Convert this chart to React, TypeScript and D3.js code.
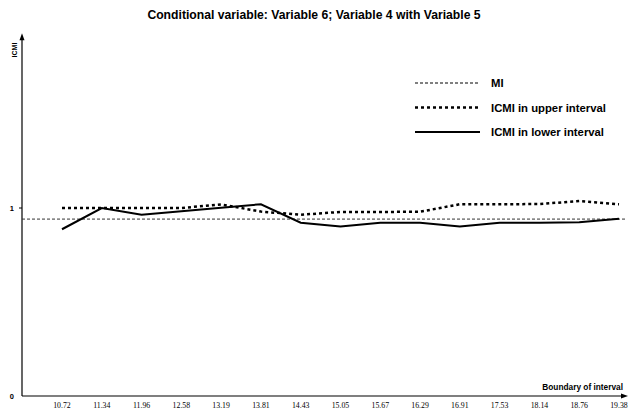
import * as d3 from 'd3';
import { useEffect, useRef } from 'react';

const boundaries = ["10.72", "11.34", "11.96", "12.58", "13.19", "13.81", "14.43", "15.05", "15.67", "16.29", "16.91", "17.53", "18.14", "18.76", "19.38"];
const upperICMI = [1.0, 1.0, 1.0, 1.0, 1.019, 0.981, 0.964, 0.979, 0.979, 0.98, 1.02, 1.02, 1.021, 1.037, 1.02];
const lowerICMI = [0.887, 1.0, 0.964, 0.983, 1.001, 1.02, 0.922, 0.901, 0.922, 0.922, 0.901, 0.922, 0.922, 0.924, 0.943];
const miValue = 0.941;
const yTicks = [0, 1];

const legendItems = [
    { label: "MI", dash: "3,2", width: 1 },
    { label: "ICMI in upper interval", dash: "3,3", width: 2.5 },
    { label: "ICMI in lower interval", dash: null, width: 2 },
];

export default function App() {
    const ref = useRef<SVGSVGElement>(null);
    const width = 629;
    const height = 412;

    useEffect(() => {
        const svg = d3.select(ref.current);
        svg.selectAll('*').remove();

        const x0 = 22;
        const y0 = 396;
        const sans = 'Liberation Sans, Arial, sans-serif';

        const xScale = d3.scalePoint<string>()
            .domain(boundaries)
            .range([62, 619]);

        const yScale = d3.scaleLinear()
            .domain([0, 2])
            .range([y0, y0 - 376]);

        // title
        svg.append('text')
            .attr('x', 314)
            .attr('y', 19)
            .attr('text-anchor', 'middle')
            .attr('font-family', sans)
            .attr('font-weight', 'bold')
            .attr('font-size', 12.2)
            .text('Conditional variable: Variable 6; Variable 4 with Variable 5');

        // axes
        const yTop = yScale(1.93);
        svg.append('line')
            .attr('x1', x0).attr('x2', x0)
            .attr('y1', y0).attr('y2', yTop + 4)
            .attr('stroke', '#000').attr('stroke-width', 1.2);
        svg.append('path')
            .attr('d', `M${x0},${yTop} L${x0 - 2.5},${yTop + 7} L${x0 + 2.5},${yTop + 7} Z`)
            .attr('fill', '#000');

        const xEnd = 628;
        svg.append('line')
            .attr('x1', x0).attr('x2', xEnd - 4)
            .attr('y1', y0).attr('y2', y0)
            .attr('stroke', '#000').attr('stroke-width', 1.2);
        svg.append('path')
            .attr('d', `M${xEnd},${y0} L${xEnd - 7},${y0 - 2.5} L${xEnd - 7},${y0 + 2.5} Z`)
            .attr('fill', '#000');

        // axis titles
        svg.append('text')
            .attr('transform', `translate(17,50) rotate(-90)`)
            .attr('text-anchor', 'middle')
            .attr('font-family', sans)
            .attr('font-weight', 'bold')
            .attr('font-size', 7)
            .text('ICMI');

        svg.append('text')
            .attr('x', 623)
            .attr('y', 390)
            .attr('text-anchor', 'end')
            .attr('font-family', sans)
            .attr('font-weight', 'bold')
            .attr('font-size', 8.3)
            .text('Boundary of interval');

        // y ticks
        svg.selectAll('.ytick')
            .data(yTicks)
            .join('text')
            .attr('class', 'ytick')
            .attr('x', 14)
            .attr('y', d => yScale(d) + 2.5)
            .attr('text-anchor', 'end')
            .attr('font-family', sans)
            .attr('font-weight', 'bold')
            .attr('font-size', 7.5)
            .text(d => d);

        svg.selectAll('.ytickmark')
            .data(yTicks.filter(d => d > 0))
            .join('line')
            .attr('class', 'ytickmark')
            .attr('x1', x0 - 3).attr('x2', x0)
            .attr('y1', d => yScale(d)).attr('y2', d => yScale(d))
            .attr('stroke', '#000');

        // x tick labels
        svg.selectAll('.xtick')
            .data(boundaries)
            .join('text')
            .attr('class', 'xtick')
            .attr('x', d => xScale(d)!)
            .attr('y', 408)
            .attr('text-anchor', 'middle')
            .attr('font-family', 'Liberation Serif, Times New Roman, serif')
            .attr('font-size', 7.8)
            .text(d => d);

        // MI line
        svg.append('line')
            .attr('x1', x0).attr('x2', 625)
            .attr('y1', yScale(miValue)).attr('y2', yScale(miValue))
            .attr('stroke', '#333')
            .attr('stroke-width', 1)
            .attr('stroke-dasharray', '3,2');

        const line = d3.line<number>()
            .x((_, i) => xScale(boundaries[i])!)
            .y(d => yScale(d));

        svg.append('path')
            .datum(upperICMI)
            .attr('fill', 'none')
            .attr('stroke', '#000')
            .attr('stroke-width', 2.5)
            .attr('stroke-dasharray', '3,3')
            .attr('d', line);

        svg.append('path')
            .datum(lowerICMI)
            .attr('fill', 'none')
            .attr('stroke', '#000')
            .attr('stroke-width', 2)
            .attr('d', line);

        // legend
        const legend = svg.append('g');
        legendItems.forEach((item, i) => {
            const y = 83 + i * 24.5;
            const l = legend.append('line')
                .attr('x1', 415).attr('x2', 480)
                .attr('y1', y).attr('y2', y)
                .attr('stroke', '#000')
                .attr('stroke-width', item.width);
            if (item.dash) l.attr('stroke-dasharray', item.dash);
            legend.append('text')
                .attr('x', 491)
                .attr('y', y + 4)
                .attr('font-family', sans)
                .attr('font-weight', 'bold')
                .attr('font-size', 11.3)
                .text(item.label);
        });
    }, []);

    return (
        <svg
            ref={ref}
            width={width}
            height={height}
            style={{ position: 'absolute', left: 0, top: 0, background: '#fff' }}
        />
    );
}
